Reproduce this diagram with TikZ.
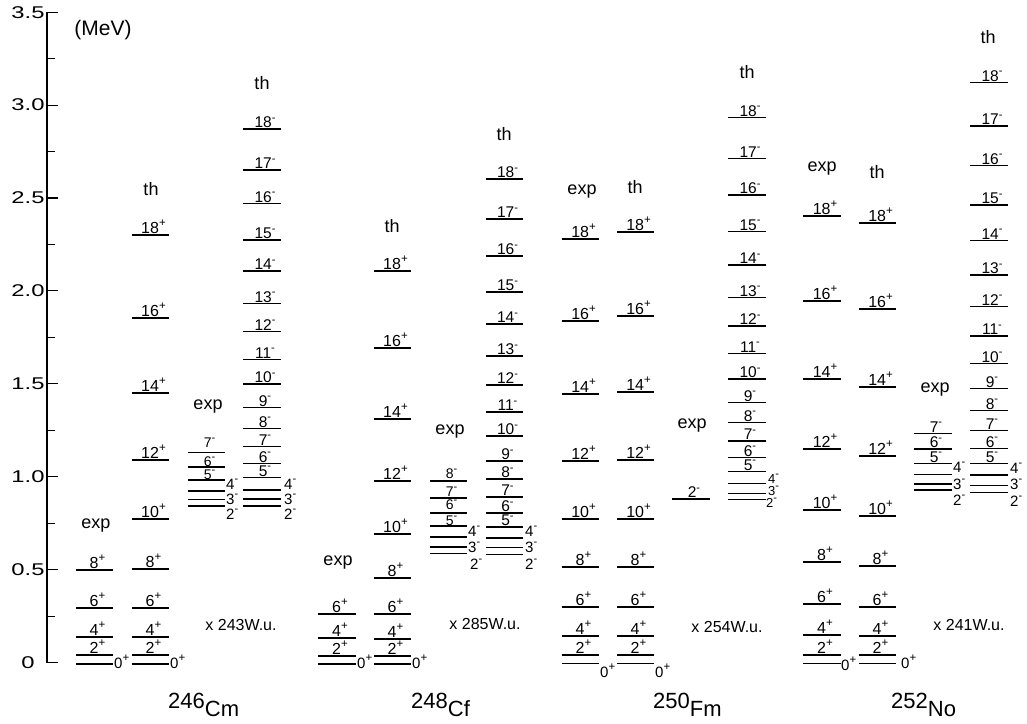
\documentclass[tikz,border=0pt]{standalone}
\usepackage{fontspec}
\setmainfont{Liberation Sans}
\newfontfamily\widefont[FakeStretch=1.4]{Liberation Sans}
\newcommand\up[1]{\raisebox{0.42em}{\fontsize{11.5}{11.5}\selectfont #1}}
\newcommand\upm[1]{\raisebox{0.42em}{\fontsize{11}{11}\selectfont #1}}
\newcommand\pl{\up{+}}
\newcommand\mi{\upm{-}}
\tikzset{
  lev/.style={line width=1.4pt},
  lbl/.style={anchor=base, inner sep=0pt, text depth=0pt, font=\fontsize{16}{16}\selectfont},
  lblm/.style={anchor=base, inner sep=0pt, text depth=0pt, font=\fontsize{15.5}{15.5}\selectfont},
  lblc/.style={anchor=base, inner sep=0pt, text depth=0pt, font=\fontsize{14}{14}\selectfont},
  rl/.style={anchor=base west, inner sep=0pt, text depth=0pt, font=\fontsize{15}{15}\selectfont},
  hdr/.style={inner sep=0pt, font=\fontsize{18}{18}\selectfont},
  wu/.style={inner sep=0pt, font=\fontsize{16}{16}\selectfont},
  nuc/.style={anchor=base west, inner sep=0pt, font=\fontsize{22}{22}\selectfont},
  ax/.style={line width=1.1pt},
  axl/.style={inner sep=0pt, font=\widefont\fontsize{17}{17}\selectfont}
}
\newcommand\lvls[4]{\foreach \yy/\jj in {#4}{\draw[lev] (#1,\yy) -- (#2,\yy); \node[lbl] at ({(#1+#2)/2+3},\yy-1.5) {\jj#3};}}
\newcommand\lvlm[3]{\foreach \yy/\jj in {#3}{\draw[lev] (#1,\yy) -- (#2,\yy); \node[lblm] at ({(#1+#2)/2+3},\yy-1.2) {\jj\mi};}}
% crowded columns: level y / label baseline y / spin
\newcommand\lvlc[3]{\foreach \yy/\bb/\jj in {#3}{\draw[lev] (#1,\yy) -- (#2,\yy); \node[lblc] at ({(#1+#2)/2+3},\bb) {\jj\mi};}}
\newcommand\bare[3]{\foreach \yy in {#3}{\draw[lev] (#1,\yy) -- (#2,\yy);}}
\begin{document}
\begin{tikzpicture}[x=1pt,y=-1pt]
\useasboundingbox (0,0) rectangle (1027,723);
% axis
\draw[ax] (47,12) -- (47,662.5);
\foreach \e/\t in {0/0,0.5/0.5,1/1.0,1.5/1.5,2/2.0,2.5/2.5,3/3.0,3.5/3.5}{
  \draw[ax] (47,{662.5-185.8*\e}) -- (58,{662.5-185.8*\e});
  \node[axl] at (28,{662.5-185.8*\e}) {\t};
}
\foreach \e in {0.25,0.75,1.25,1.75,2.25,2.75,3.25}{
  \draw[ax] (47,{662.5-185.8*\e}) -- (55,{662.5-185.8*\e});
}
\node[inner sep=0pt, font=\fontsize{21}{21}\selectfont] (mev) at (103,30) {(MeV)};

% ===== 246Cm =====
\bare{76}{113}{664}
\lvls{76}{113}{\pl}{655/2,637/4,608/6,570/8}
\node[rl] at (114,668) {0\pl};
\node[hdr] (cmA) at (96,526) {exp};
\bare{132}{169}{664}
\lvls{132}{169}{\pl}{655/2,637/4,608/6,569/8,519/10,460/12,393/14,318/16,235/18}
\node[rl] at (170,668) {0\pl};
\node[hdr] (cmB) at (151,189) {th};
\bare{188}{225}{491,499.5,506}
\lvlc{188}{225}{480/479/5,467/466/6,452.5/447/7}
\node[rl] at (226,489) {4\mi};
\node[rl] at (226,504) {3\mi};
\node[rl] at (226,519) {2\mi};
\node[hdr] (cmC) at (208,407) {exp};
\bare{243}{281}{490,499,506}
\lvlm{243}{281}{477.7/5,463.3/6,446.5/7,428.3/8,407.7/9,384/10,359.3/11,331.7/12,303.3/13,271/14,240/15,203.3/16,170/17,129/18}
\node[rl] at (284,489) {4\mi};
\node[rl] at (284,504) {3\mi};
\node[rl] at (284,519) {2\mi};
\node[hdr] (cmD) at (262,83) {th};
\node[wu] (cmW) at (241,625) {x 243W.u.};
\node[nuc] (cm) at (168,708) {246\raisebox{-8pt}{Cm}};

% ===== 248Cf =====
\bare{318}{356}{664}
\lvls{318}{356}{\pl}{656/2,638/4,614/6}
\node[rl] at (357,668) {0\pl};
\node[hdr] (cfA) at (338,563) {exp};
\bare{374}{411}{664}
\lvls{374}{411}{\pl}{656/2,639/4,614/6,578/8,534/10,481/12,419/14,348/16,271/18}
\node[rl] at (412,668) {0\pl};
\node[hdr] (cfB) at (392,226) {th};
\bare{430}{467}{537,547,553.5}
\lvlc{430}{467}{526/525/5,513/509.5/6,498/496.5/7,481/478/8}
\node[rl] at (468,536) {4\mi};
\node[rl] at (468,552) {3\mi};
\node[rl] at (470,569) {2\mi};
\node[hdr] (cfC) at (450,432) {exp};
\bare{486}{523}{538,547.5,554.5}
\lvlm{486}{523}{527/5,513/6,497/7,479/8,461/9,436/10,412/11,385/12,356/13,324/14,292/15,256/16,219/17,179/18}
\node[rl] at (525,536) {4\mi};
\node[rl] at (525,552) {3\mi};
\node[rl] at (525,569) {2\mi};
\node[hdr] (cfD) at (504,134) {th};
\node[wu] (cfW) at (485,624) {x 285W.u.};
\node[nuc] (cf) at (411,708) {248\raisebox{-8pt}{Cf}};

% ===== 250Fm =====
\bare{562}{599}{663.5}
\lvls{562}{599}{\pl}{655/2,636/4,607/6,567/8,519/10,461/12,394/14,321/16,239/18}
\node[rl] at (600,677) {0\pl};
\node[hdr] (fmA) at (582,192) {exp};
\bare{617}{654}{663.5}
\lvls{617}{654}{\pl}{655/2,636/4,607/6,567/8,519/10,460/12,392/14,316/16,232/18}
\node[rl] at (655,677) {0\pl};
\node[hdr] (fmB) at (635,187) {th};
\lvlm{672}{710}{499/2}
\node[hdr] (fmC) at (692,426) {exp};
\bare{728}{766}{483.3,493.3,499.3}
\lvlm{728}{766}{471.7/5,457.7/6,441/7,422.7/8,402.3/9,379/10,353.3/11,326/12,297.3/13,265/14,231.7/15,195/16,158.3/17,117.3/18}
\node[rl, font=\fontsize{13}{13}\selectfont] at (768,483) {4\mi};
\node[rl, font=\fontsize{13}{13}\selectfont] at (768,495) {3\mi};
\node[rl, font=\fontsize{13}{13}\selectfont] at (766,507) {2\mi};
\node[hdr] (fmD) at (747,72) {th};
\node[wu] (fmW) at (727,627) {x 254W.u.};
\node[nuc] (fm) at (653,708) {250\raisebox{-8pt}{Fm}};

% ===== 252No =====
\bare{803}{841}{663.3}
\lvls{803}{841}{\pl}{655/2,635/4,604/6,562/8,510/10,449/12,379/14,301/16,216/18}
\node[rl] at (841,670) {0\pl};
\node[hdr] (noA) at (822,169) {exp};
\bare{859}{896}{663.3}
\lvls{859}{896}{\pl}{655/2,636/4,607/6,566/8,516/10,456/12,387/14,309/16,223/18}
\node[rl] at (901,668) {0\pl};
\node[hdr] (noB) at (877,172) {th};
\bare{914}{952}{474.3,484,490}
\lvlm{914}{952}{463.3/5,449/6,433.3/7}
\node[rl] at (953,472) {4\mi};
\node[rl] at (953,489) {3\mi};
\node[rl] at (953,505) {2\mi};
\node[hdr] (noC) at (935,390) {exp};
\bare{970}{1008}{475,485.7,492.7}
\lvlm{970}{1008}{463.3/5,448.3/6,430.7/7,410.7/8,388.3/9,363.3/10,336/11,306.7/12,275/13,240.7/14,205/15,165.7/16,126/17,82.3/18}
\node[rl] at (1010,473) {4\mi};
\node[rl] at (1010,489) {3\mi};
\node[rl] at (1010,506) {2\mi};
\node[hdr] (noD) at (988,37) {th};
\node[wu] (noW) at (969,625) {x 241W.u.};
\node[nuc] (no) at (891,708) {252\raisebox{-8pt}{No}};
\end{tikzpicture}
\end{document}
